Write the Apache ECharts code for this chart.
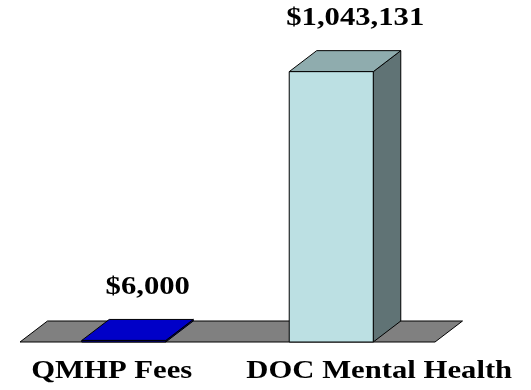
<!DOCTYPE html>
<html>
<head>
<meta charset="utf-8">
<script src="https://cdn.jsdelivr.net/npm/echarts@6/dist/echarts.min.js"></script>
<style>
  html, body { margin: 0; padding: 0; background: #ffffff; }
  #chart { width: 531px; height: 390px; }
</style>
</head>
<body>
<div id="chart"></div>
<script>
// Budget items and their dollar amounts
const categories = ['QMHP Fees', 'DOC Mental Health'];
const amounts = [6000, 1043131];
const valueMax = 1200000;

// 3D look: depth offset of the extruded faces
const DEPTH_X = 27.5;
const DEPTH_Y = 21;
const BAR_RATIO = 0.405;
const faceColors = [
  { front: '#0000A8', top: '#0000C8', side: '#000080' },
  { front: '#BCE0E3', top: '#8FACAE', side: '#607375' }
];
const textFont = {
  fontFamily: '"Liberation Serif", "Times New Roman", serif',
  fontSize: 26,
  fontWeight: 'bold'
};
const TEXT_STRETCH = 1.18;
const categoryLabelShift = [-12, 48];

function money(v) {
  return '$' + Number(v).toLocaleString('en-US');
}

const edge = { stroke: '#000000', lineWidth: 1, lineJoin: 'miter' };

function renderFloor(params, api) {
  const band = api.size([1, 0])[0];
  const first = api.coord([0, 0]);
  const last = api.coord([categories.length - 1, 0]);
  const x0 = first[0] - band / 2;
  const x1 = last[0] + band / 2;
  const y = first[1];
  return {
    type: 'polygon',
    shape: { points: [[x0, y], [x1, y], [x1 + DEPTH_X, y - DEPTH_Y], [x0 + DEPTH_X, y - DEPTH_Y]] },
    style: Object.assign({ fill: '#808080' }, edge)
  };
}

function textEl(x, y, str) {
  return {
    type: 'text',
    x: x,
    y: y,
    scaleX: TEXT_STRETCH,
    style: Object.assign({
      text: str,
      fill: '#000000',
      align: 'center',
      verticalAlign: 'middle'
    }, textFont)
  };
}

function renderBar(params, api) {
  const idx = api.value(0);
  const val = api.value(1);
  const base = api.coord([idx, 0]);
  const topPt = api.coord([idx, val]);
  const w = api.size([1, 0])[0] * BAR_RATIO;
  const xl = base[0] - w / 2;
  const xr = base[0] + w / 2;
  const yb = base[1];
  const yt = topPt[1];
  const c = faceColors[idx];
  return {
    type: 'group',
    children: [
      {
        type: 'polygon',
        shape: { points: [[xr, yb], [xr + DEPTH_X, yb - DEPTH_Y], [xr + DEPTH_X, yt - DEPTH_Y], [xr, yt]] },
        style: Object.assign({ fill: c.side }, edge)
      },
      {
        type: 'polygon',
        shape: { points: [[xl, yt], [xr, yt], [xr + DEPTH_X, yt - DEPTH_Y], [xl + DEPTH_X, yt - DEPTH_Y]] },
        style: Object.assign({ fill: c.top }, edge)
      },
      {
        type: 'rect',
        shape: { x: xl, y: yt, width: w, height: yb - yt },
        style: Object.assign({ fill: c.front }, edge)
      },
      textEl(base[0] + 24, yt - 53, money(val)),
      textEl(base[0] + categoryLabelShift[idx], yb + 29, categories[idx])
    ]
  };
}

const chart = echarts.init(document.getElementById('chart'), null, { renderer: 'canvas' });
chart.setOption({
  animation: false,
  backgroundColor: '#ffffff',
  grid: { left: 20, right: 96, top: 31, bottom: 48 },
  xAxis: {
    type: 'category',
    data: categories,
    axisLine: { show: false },
    axisTick: { show: false },
    axisLabel: { show: false },
    splitLine: { show: false }
  },
  yAxis: {
    type: 'value',
    min: 0,
    max: valueMax,
    show: false,
    splitLine: { show: false }
  },
  series: [
    {
      type: 'custom',
      name: 'floor',
      renderItem: renderFloor,
      data: [[0, 0]],
      silent: true
    },
    {
      type: 'custom',
      name: 'amount',
      renderItem: renderBar,
      data: amounts.map((v, i) => [i, v])
    }
  ]
});
</script>
</body>
</html>
